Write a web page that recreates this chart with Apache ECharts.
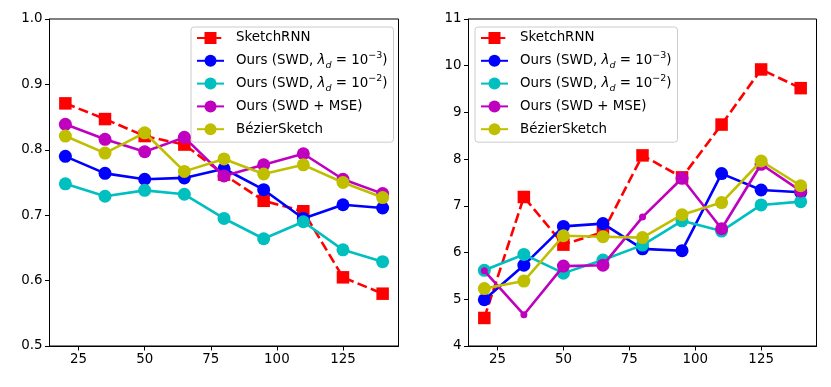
<!DOCTYPE html>
<html>
<head>
<meta charset="utf-8">
<script src="https://cdn.jsdelivr.net/npm/echarts@6/dist/echarts.min.js"></script>
<style>html,body{margin:0;padding:0;background:#fff;}#c{width:831px;height:387px;}</style>
</head>
<body>
<div id="c"></div>
<script>
const xs = [20, 35, 50, 65, 80, 95, 110, 125, 140];
const xTicks = [25, 50, 75, 100, 125];
const names = ['SketchRNN', 'Ours (SWD, λd = 10^-3)', 'Ours (SWD, λd = 10^-2)', 'Ours (SWD + MSE)', 'BézierSketch'];

// Left panel
const leftSketchRNN = [0.871, 0.847, 0.821, 0.808, 0.762, 0.722, 0.706, 0.605, 0.580];
const leftSWD3      = [0.790, 0.764, 0.755, 0.757, 0.771, 0.739, 0.695, 0.716, 0.711];
const leftSWD2      = [0.748, 0.729, 0.738, 0.732, 0.695, 0.664, 0.690, 0.647, 0.629];
const leftSWDMSE    = [0.839, 0.816, 0.797, 0.819, 0.760, 0.777, 0.794, 0.755, 0.733];
const leftBezier    = [0.821, 0.795, 0.826, 0.767, 0.786, 0.763, 0.777, 0.750, 0.727];

// Right panel
const rightSketchRNN = [4.60, 7.19, 6.17, 6.44, 8.08, 7.61, 8.74, 9.92, 9.52];
const rightSWD3      = [4.99, 5.73, 6.56, 6.62, 6.08, 6.04, 7.69, 7.34, 7.29];
const rightSWD2      = [5.62, 5.96, 5.56, 5.84, 6.16, 6.68, 6.46, 7.02, 7.09];
const rightSWDMSE    = [5.61, 4.67, 5.71, 5.73, 6.76, 7.59, 6.51, 7.89, 7.32];
const rightBezier    = [5.23, 5.39, 6.36, 6.34, 6.32, 6.81, 7.07, 7.96, 7.43];
const rightSWDMSESmall = [true, true, false, false, true, false, false, false, false];

const colors = ['#ff0000', '#0000ff', '#00bfbf', '#bf00bf', '#bfbf00'];
const FONT = 'DejaVu Sans';
const FS = 13.4;

function pts(vals, small) {
  return xs.map((x, i) => {
    const o = { value: [x, vals[i]] };
    if (small && small[i]) o.symbolSize = 7;
    return o;
  });
}

function mkSeries(idx, vals, gi, small) {
  const isRed = idx === 0;
  return {
    name: names[idx],
    type: 'line',
    xAxisIndex: gi, yAxisIndex: gi,
    data: pts(vals, small),
    symbol: isRed ? 'rect' : 'circle',
    symbolSize: isRed ? 12.5 : 13,
    color: colors[idx],
    lineStyle: { width: 2.6, color: colors[idx], type: isRed ? [10, 4.3] : 'solid' },
    itemStyle: { color: colors[idx] },
    emphasis: { disabled: true },
    z: 2 + idx
  };
}

const rich = {
  t: { fontFamily: FONT, fontSize: FS, lineHeight: 20, height: 20, verticalAlign: 'middle', color: '#000' },
  i: { fontFamily: FONT, fontSize: FS, fontStyle: 'italic', lineHeight: 20, height: 20, verticalAlign: 'middle', color: '#000' },
  sub: { fontFamily: FONT, fontSize: 9.5, fontStyle: 'italic', lineHeight: 14, verticalAlign: 'bottom', color: '#000' },
  sup: { fontFamily: FONT, fontSize: 9.5, lineHeight: 14, verticalAlign: 'top', color: '#000' }
};

function legendFmt(name) {
  if (name === names[1]) return '{t|Ours (SWD, }{i|λ}{sub|d}{t| = 10}{sup|−3}{t|)}';
  if (name === names[2]) return '{t|Ours (SWD, }{i|λ}{sub|d}{t| = 10}{sup|−2}{t|)}';
  return '{t|' + name + '}{sup| }{sub| }';
}

function mkLegend(left) {
  return {
    data: names,
    orient: 'vertical',
    left: left, top: 27,
    padding: [1, 6, 3, 5],
    itemWidth: 27, itemHeight: 15,
    itemGap: 2.8,
    backgroundColor: 'rgba(255,255,255,0.8)',
    borderColor: '#cccccc', borderWidth: 1, borderRadius: 3,
    selectedMode: false,
    formatter: legendFmt,
    textStyle: { fontFamily: FONT, fontSize: FS, color: '#000', rich: rich, padding: [0, 0, 0, 7] }
  };
}

function mkX(gi) {
  return {
    type: 'value', gridIndex: gi, min: 14, max: 146,
    axisLine: { show: true, onZero: false, lineStyle: { color: '#000', width: 1 } },
    axisTick: { show: true, length: 4.5, customValues: xTicks, lineStyle: { color: '#000', width: 1 } },
    axisLabel: { customValues: xTicks, fontFamily: FONT, fontSize: FS, color: '#000', margin: 7 },
    splitLine: { show: false }
  };
}

function mkY(gi, mn, mx, iv, dec) {
  return {
    type: 'value', gridIndex: gi, min: mn, max: mx, interval: iv,
    axisLine: { show: true, onZero: false, lineStyle: { color: '#000', width: 1 } },
    axisTick: { show: true, length: 4.5, lineStyle: { color: '#000', width: 1 } },
    axisLabel: { fontFamily: FONT, fontSize: FS, color: '#000', margin: 7, formatter: v => v.toFixed(dec) },
    splitLine: { show: false }
  };
}

const chart = echarts.init(document.getElementById('c'), null, { renderer: 'canvas' });
chart.setOption({
  backgroundColor: '#ffffff',
  animation: false,
  grid: [
    { left: 49.5, top: 19, width: 349, height: 327, show: true, borderColor: '#000', borderWidth: 1, backgroundColor: 'transparent' },
    { left: 468.5, top: 19, width: 348, height: 327, show: true, borderColor: '#000', borderWidth: 1, backgroundColor: 'transparent' }
  ],
  xAxis: [mkX(0), mkX(1)],
  yAxis: [mkY(0, 0.5, 1.0, 0.1, 1), mkY(1, 4, 11, 1, 0)],
  legend: [mkLegend(191), mkLegend(475)],
  series: [
    mkSeries(0, leftSketchRNN, 0),
    mkSeries(1, leftSWD3, 0),
    mkSeries(2, leftSWD2, 0),
    mkSeries(3, leftSWDMSE, 0),
    mkSeries(4, leftBezier, 0),
    mkSeries(0, rightSketchRNN, 1),
    mkSeries(1, rightSWD3, 1),
    mkSeries(2, rightSWD2, 1),
    mkSeries(3, rightSWDMSE, 1, rightSWDMSESmall),
    mkSeries(4, rightBezier, 1)
  ]
});
</script>
</body>
</html>
